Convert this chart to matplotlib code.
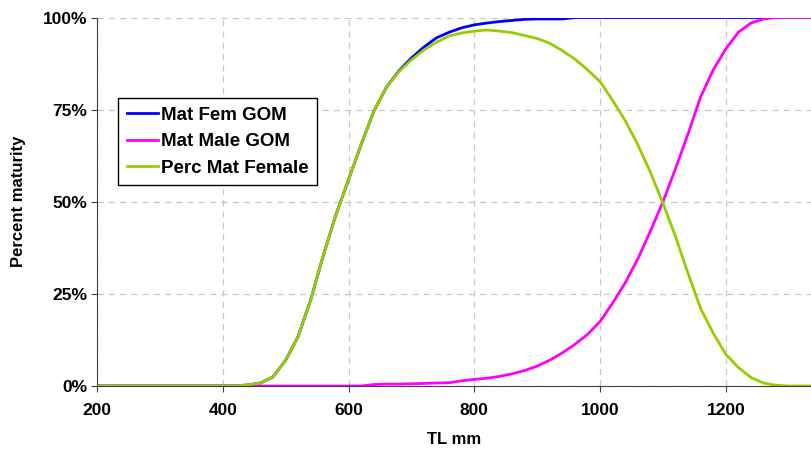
import matplotlib.pyplot as plt
from matplotlib.ticker import PercentFormatter

plt.rcParams['font.family'] = ['Liberation Sans', 'DejaVu Sans']

# TL (mm), every 20 mm
tl = list(range(200, 1360, 20))

# values, in percent
mat_fem = ([0] * 12 +  # 200-420
           [0.3, 0.8, 2.5, 7, 13.5, 23.5, 35.5, 46.5, 56, 65.5, 74.5, 81, 85.5, 89,
            92, 94.5, 96, 97.2, 98, 98.5, 98.9, 99.2, 99.5, 99.6, 99.6, 99.6] +
           [100] * 20)  # 960-1340

mat_male = ([0] * 22 +  # 200-620
            [0.4, 0.5, 0.5, 0.6, 0.7, 0.8, 0.9, 1.4, 1.8, 2.1, 2.6, 3.3, 4.2, 5.4,
             7, 9, 11.3, 14, 17.5, 22.5, 28, 34.5, 42, 50, 59, 68.5, 78.5, 85.8,
             91.5, 96, 98.5, 99.6] +
            [100] * 4)  # 1280-1340

perc_mat_fem = ([0] * 12 +
                [0.3, 0.8, 2.5, 7, 13.5, 23.5, 35.5, 46.5, 56, 65.5, 74.5, 81, 85.3,
                 88.5, 91.2, 93.3, 95, 95.8, 96.3, 96.6, 96.3, 95.9, 95.1, 94.3, 93,
                 91, 88.7, 85.8, 82.6, 77.5, 72, 65.5, 58, 49.6, 40.5, 30.5, 21,
                 14.3, 8.6, 5, 2.3, 0.8, 0.2] +
                [0] * 3)

fig = plt.figure(figsize=(8.12, 4.55), dpi=100)
ax = fig.add_axes([97 / 812, 1 - 386 / 455, 715 / 812, 368.5 / 455])

ax.plot(tl, mat_fem, color='#0000FF', lw=2, label='Mat Fem GOM')
ax.plot(tl, mat_male, color='#FF00FF', lw=2, label='Mat Male GOM')
ax.plot(tl, perc_mat_fem, color='#99CC00', lw=2, label='Perc Mat Female')

ax.set_xlim(200, 1337)
ax.set_ylim(0, 100)
ax.set_xticks([200, 400, 600, 800, 1000, 1200])
ax.set_yticks([0, 25, 50, 75, 100])
ax.yaxis.set_major_formatter(PercentFormatter(decimals=0))

ax.grid(True, color='#c8c8c8', linestyle=(0, (5, 4)), lw=0.9)
ax.set_axisbelow(True)
for s in ['top', 'right']:
    ax.spines[s].set_visible(False)
for s in ['left', 'bottom']:
    ax.spines[s].set_color('#404040')
ax.tick_params(direction='out', length=4, color='#404040', labelsize=12.5, pad=3)
for lab in ax.get_xticklabels() + ax.get_yticklabels():
    lab.set_fontweight('bold')
ax.tick_params(axis='x', pad=8)

ax.set_xlabel('TL mm', fontsize=12, fontweight='bold', labelpad=10)
ax.set_ylabel('Percent maturity', fontsize=12, fontweight='bold', labelpad=12)

leg = ax.legend(loc='upper left', bbox_to_anchor=(0.0298, 0.781), borderaxespad=0,
                fancybox=False, edgecolor='black', framealpha=1,
                prop={'weight': 'bold', 'size': 13.5}, handlelength=1.65,
                handletextpad=0.2, labelspacing=0.5, borderpad=0.45)
leg.get_frame().set_linewidth(1)

fig.savefig('out.png', dpi=100)
